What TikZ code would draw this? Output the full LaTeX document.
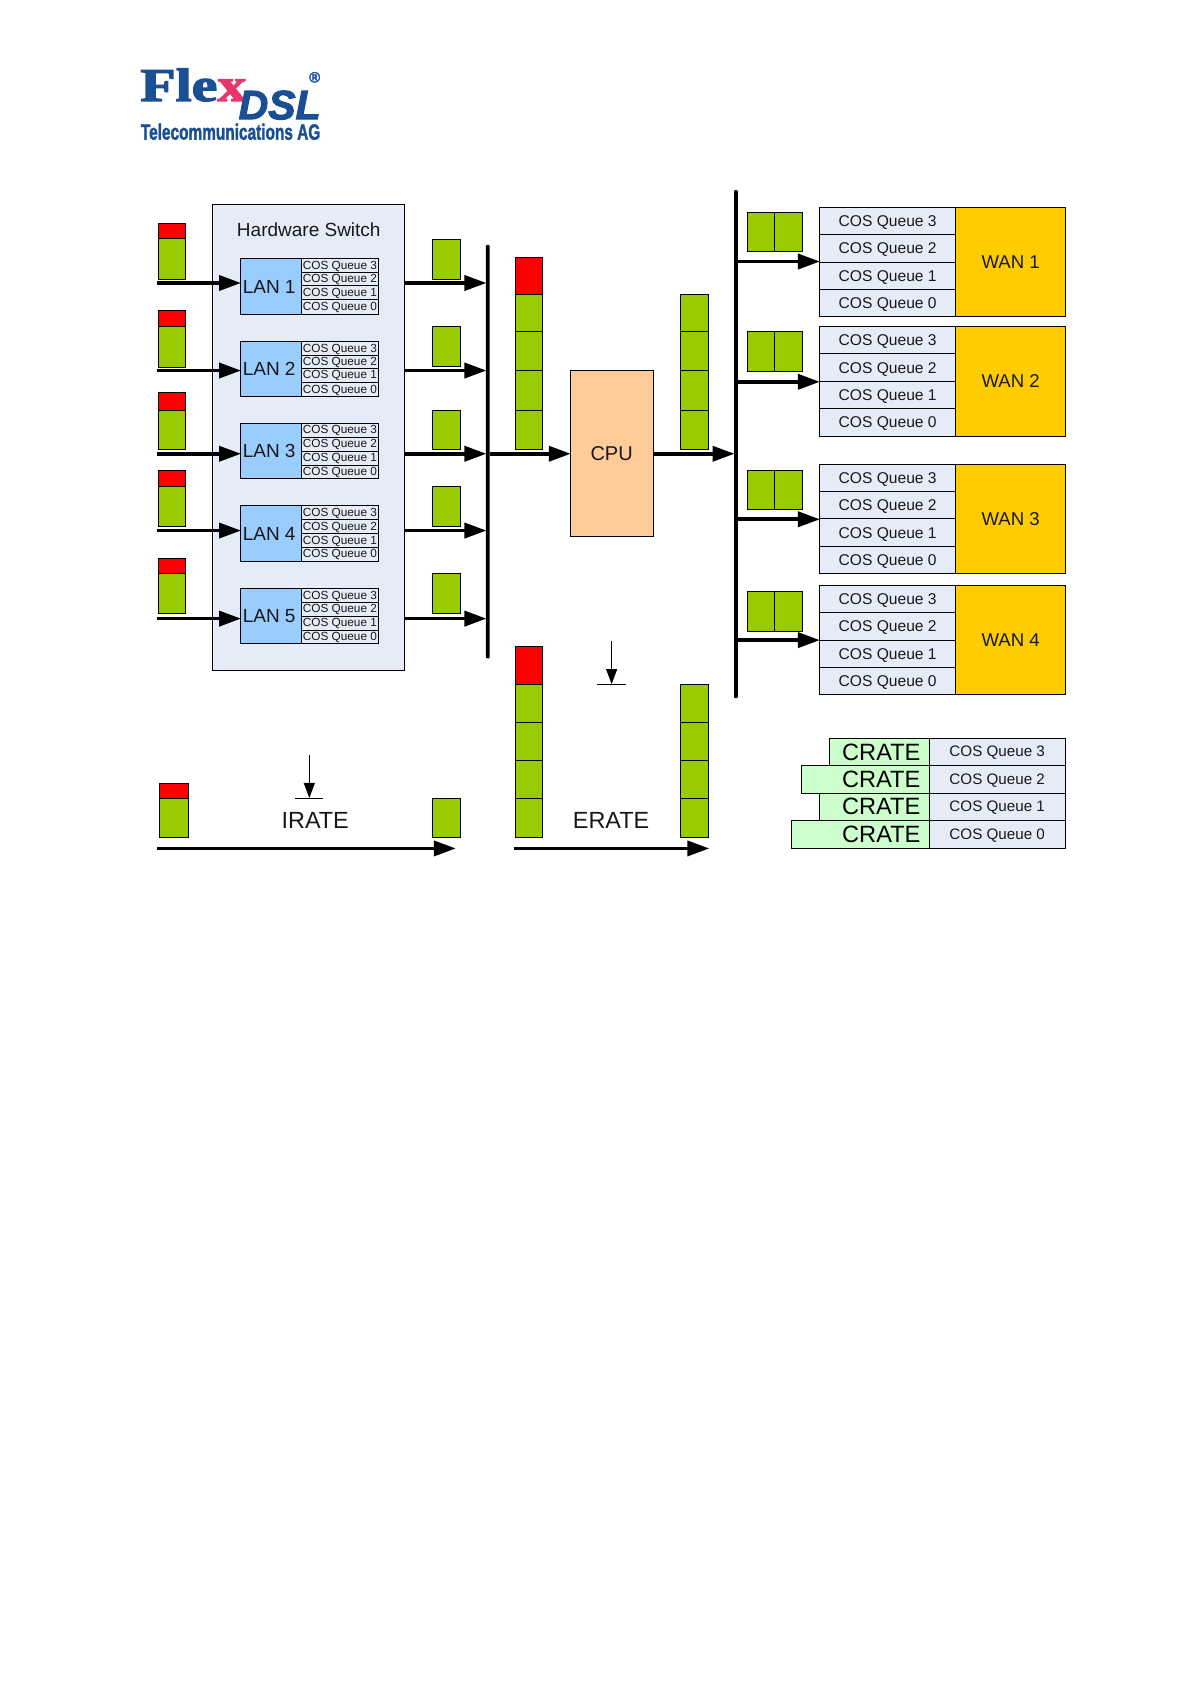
\documentclass[tikz,border=0pt]{standalone}
\usepackage{fontspec}
\setmainfont{Liberation Sans}
\newfontfamily\logoserif[FakeBold=2.5]{Liberation Serif Bold}
\newfontfamily\logodsl[FakeBold=2.5]{Liberation Sans Bold Italic}
\newfontfamily\logotel[FakeBold=2]{Liberation Sans Bold}
\usetikzlibrary{arrows.meta}
\definecolor{gr}{HTML}{99CC00}
\definecolor{rd}{HTML}{FF0000}
\definecolor{lanb}{HTML}{99CCFF}
\definecolor{cpuc}{HTML}{FFCC99}
\definecolor{wanc}{HTML}{FFCC00}
\definecolor{pale}{HTML}{E6ECF7}
\definecolor{crt}{HTML}{CCFFCC}
\definecolor{logob}{HTML}{1B4F93}
\definecolor{logor}{HTML}{E8356B}
\definecolor{txt}{HTML}{181818}
\newcommand\fs[1]{\fontsize{#1}{#1}\selectfont}
\newcommand\dn[2]{\raisebox{#1pt}{\raisebox{#1pt}{\vphantom{Q}}}#2}
\newcommand\bx[7]{%
  \pgfmathsetmacro\bw{(#5-#3)*1.074}\pgfmathsetmacro\bh{(#6-#4)*1.074}%
  \pgfmathsetmacro\cx{(#3+#5)/2}\pgfmathsetmacro\cy{(#4+#6)/2}%
  \node[boxn,#2,minimum width=\bw pt,minimum height=\bh pt] (#1) at (\cx,\cy) {#7};}
\tikzset{
  boxn/.style={draw=black,line width=0.8pt,inner sep=0pt,outer sep=0pt,text=txt,align=center},
  g/.style={fill=gr},
  r/.style={fill=rd},
  q/.style={fill=pale,font=\fs{15.6}},
  qs/.style={fill=pale,font=\fs{11.8},line width=0.9pt},
  lanbox/.style={fill=lanb,font=\fs{19}},
  wanbox/.style={fill=wanc,font=\fs{18.6}},
  crate/.style={fill=crt,font=\fs{23.6},text=black},
  qc/.style={fill=pale,font=\fs{15.2}},
  flow/.style={line width=3.6pt,-{Triangle[length=22pt,width=15pt]},shorten >=-0.5pt},
  thin arrow/.style={line width=0.8pt,-{Triangle[length=15pt,width=11pt]}},
  bus/.style={fill=black,draw=none,rounded corners=1pt},
}
\begin{document}
\begin{tikzpicture}[x=1.074pt,y=-1.074pt]
\useasboundingbox (0,0) rectangle (1109,1568);
% logo
\node[inner sep=0,anchor=base west,text=logob] (logoa) at (130.5,94) {\scalebox{1.23}[1]{\logoserif\fs{47}Fle\textcolor{logor}{x}}};
\node[inner sep=0,anchor=base west,text=logob] (logob) at (222,111) {\logodsl\fs{41}DSL};
\node[inner sep=0,anchor=base west,text=logob] (logoc) at (131,130) {\scalebox{.70}[1]{\logotel\fs{22}Telecommunications AG}};
\node[inner sep=0,text=logob] (logod) at (293,72) {\logotel\fs{15}®};
% switch
\bx{sw}{fill=pale}{198}{190}{377}{624}{}
\node[text=txt,font=\fs{19}] (swt) at (287.5,213.5) {Hardware Switch};
% LAN boxes
\foreach \n/\y/\a/\b/\c in {1/241/254/266/279,2/318/331/343/356,3/394/407/420/433,4/471/484/497/510,5/548/561/574/587}{
  \pgfmathsetmacro\yb{\y+51.5}
  \bx{lan\n}{lanbox}{224}{\y}{281}{\yb}{LAN \n\kern4pt}
  \bx{q\n a}{qs}{281}{\y}{352}{\a}{\dn{0.5}{COS Queue 3}}
  \bx{q\n b}{qs}{281}{\a}{352}{\b}{\dn{0.5}{COS Queue 2}}
  \bx{q\n c}{qs}{281}{\b}{352}{\c}{\dn{0.5}{COS Queue 1}}
  \bx{q\n d}{qs}{281}{\c}{352}{\yb}{\dn{0.5}{COS Queue 0}}
}
% buses
\bx{busa}{bus}{452.5}{228}{456}{613}{}
\bx{busb}{bus}{683.5}{177}{687}{650}{}
% CPU
\bx{cpu}{fill=cpuc,font=\fs{20}}{531}{345}{608}{499}{CPU}
% ingress stacks
\foreach \n/\t/\m/\e/\yy in {1/208/222/260/263.5,2/289/304/342/345,3/365/382/418/422.5,4/438/453/490/494,5/520/534/571/576}{
  \bx{inr\n}{r}{147.5}{\t}{173}{\m}{}
  \bx{ing\n}{g}{147.5}{\m}{173}{\e}{}
  \coordinate (ins\n) at (146,\yy);
  \coordinate (ous\n) at (376,\yy);
  \draw[flow] (ins\n) -- (ins\n -| lan\n.west);
  \draw[flow] (ous\n) -- (ous\n -| busa.west);
}
\foreach \n/\t/\e in {1/223/260,2/304/341,3/382/418,4/453/490,5/534/571}{
  \bx{outg\n}{g}{402.5}{\t}{429}{\e}{}
}
% centre stacks
\bx{ca0}{r}{480}{240}{505}{274}{}
\bx{ca1}{g}{480}{274}{505}{309}{}
\bx{ca2}{g}{480}{309}{505}{345}{}
\bx{ca3}{g}{480}{345}{505}{382}{}
\bx{ca4}{g}{480}{382}{505}{418}{}
\bx{cb1}{g}{633.5}{274}{660}{309}{}
\bx{cb2}{g}{633.5}{309}{660}{345}{}
\bx{cb3}{g}{633.5}{345}{660}{382}{}
\bx{cb4}{g}{633.5}{382}{660}{418}{}
\coordinate (cy) at (0,422.5);
\draw[flow] (cy -| busa.east) -- (cy -| cpu.west);
\draw[flow] (cy -| cpu.east) -- (cy -| busb.west);
% WAN groups
\foreach \n/\y/\a/\yy in {1/193/197.5/243.5,2/304/309/355.5,3/432/438/483.5,4/545/551/596}{
  \pgfmathsetmacro\ya{\y+25.5}\pgfmathsetmacro\yb{\y+51}\pgfmathsetmacro\yc{\y+76.5}\pgfmathsetmacro\yd{\y+102}\pgfmathsetmacro\ae{\a+36.5}
  \bx{w\n a}{q}{763}{\y}{890}{\ya}{\dn{1.6}{COS Queue 3}}
  \bx{w\n b}{q}{763}{\ya}{890}{\yb}{\dn{1.6}{COS Queue 2}}
  \bx{w\n c}{q}{763}{\yb}{890}{\yc}{\dn{1.6}{COS Queue 1}}
  \bx{w\n d}{q}{763}{\yc}{890}{\yd}{\dn{1.6}{COS Queue 0}}
  \bx{wan\n}{wanbox}{890}{\y}{992}{\yd}{WAN \n}
  \bx{pa\n}{g}{696}{\a}{721}{\ae}{}
  \bx{pb\n}{g}{721}{\a}{747}{\ae}{}
  \coordinate (wy\n) at (0,\yy);
  \draw[flow] (wy\n -| busb.east) -- (wy\n -| w\n a.west);
}
% IRATE
\bx{irr}{r}{148}{729}{175}{743}{}
\bx{irg}{g}{148}{743}{175}{780}{}
\bx{iro}{g}{402.5}{743}{429}{780}{}
\coordinate (ia) at (146,790);
\coordinate (ib) at (424,790);
\draw[flow] (ia) -- (ib);
\coordinate (ic) at (288,703);
\coordinate (id) at (288,743);
\coordinate (il) at (275,743);
\coordinate (ir) at (301,743);
\draw[thin arrow] (ic) -- (id);
\draw[line width=0.8pt] (il) -- (ir);
\node[font=\fs{23.4},text=txt] (irt) at (293.5,764) {IRATE};
% ERATE
\bx{er0}{r}{480}{602}{505}{637}{}
\bx{er1}{g}{480}{637}{505}{673}{}
\bx{er2}{g}{480}{673}{505}{708}{}
\bx{er3}{g}{480}{708}{505}{743}{}
\bx{er4}{g}{480}{743}{505}{780}{}
\bx{es1}{g}{633.5}{637}{660}{673}{}
\bx{es2}{g}{633.5}{673}{660}{708}{}
\bx{es3}{g}{633.5}{708}{660}{743}{}
\bx{es4}{g}{633.5}{743}{660}{780}{}
\coordinate (ea) at (479,790);
\coordinate (eb) at (660,790);
\draw[flow] (ea) -- (eb);
\coordinate (ec) at (569.5,597);
\coordinate (ed) at (569.5,637);
\coordinate (el) at (556,637);
\coordinate (er) at (583,637);
\draw[thin arrow] (ec) -- (ed);
\draw[line width=0.8pt] (el) -- (er);
\node[font=\fs{23.4},text=txt] (ert) at (569,764) {ERATE};
% CRATE table
\bx{ca}{crate,text width=82.7pt,align=right}{772}{687.5}{865}{713}{CRATE}
\bx{cb}{crate,text width=110.6pt,align=right}{746}{713}{865}{738.5}{CRATE}
\bx{cc}{crate,text width=92.3pt,align=right}{763}{738.5}{865}{764}{CRATE}
\bx{cd}{crate,text width=120.3pt,align=right}{737}{764}{865}{790}{CRATE}
\bx{qa}{qc}{865}{687.5}{992}{713}{\dn{1}{COS Queue 3}}
\bx{qb}{qc}{865}{713}{992}{738.5}{\dn{1}{COS Queue 2}}
\bx{qc}{qc}{865}{738.5}{992}{764}{\dn{1}{COS Queue 1}}
\bx{qd}{qc}{865}{764}{992}{790}{\dn{1}{COS Queue 0}}
\end{tikzpicture}
\end{document}
